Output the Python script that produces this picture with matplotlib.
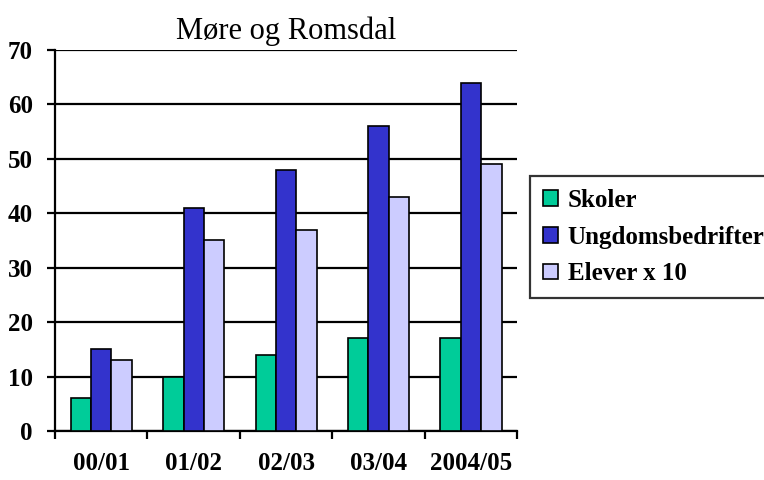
import matplotlib.pyplot as plt
import numpy as np

# Data
categories = ['00/01', '01/02', '02/03', '03/04', '2004/05']
skoler = [6, 10, 14, 17, 17]
ungdomsbedrifter = [15, 41, 48, 56, 64]
elever_x10 = [13, 35, 37, 43, 49]

series = [
    ('Skoler', skoler, '#00CC99'),
    ('Ungdomsbedrifter', ungdomsbedrifter, '#3333CC'),
    ('Elever x 10', elever_x10, '#CCCCFF'),
]

plt.rcParams['font.family'] = ['Liberation Serif', 'DejaVu Serif']

fig = plt.figure(figsize=(7.64, 4.8), dpi=100)
ax = fig.add_axes([0.072, 0.102, 0.605, 0.794])

x = np.arange(len(categories))
width = 0.22
for i, (name, vals, color) in enumerate(series):
    ax.bar(x + (i - 1) * width, vals, width, color=color, edgecolor='black',
           linewidth=1.2, label=name, zorder=3)

ax.set_xlim(-0.5, len(categories) - 0.5)
ax.set_ylim(0, 70)
ax.set_yticks(range(0, 71, 10))
ax.yaxis.grid(True, color='black', linewidth=1.6, zorder=0)
ax.set_axisbelow(True)

# category ticks at group boundaries, labels centred
ax.set_xticks(np.arange(-0.5, len(categories), 1))
ax.set_xticklabels([])
ax.set_xticks(x, minor=True)
ax.set_xticklabels(categories, minor=True)
ax.tick_params(axis='x', which='minor', length=0, pad=15)
ax.tick_params(axis='x', which='major', length=6, width=1.6, direction='out')
ax.tick_params(axis='y', length=6, width=1.6, direction='out', pad=10)

for lbl in ax.get_xticklabels(minor=True) + ax.get_yticklabels():
    lbl.set_fontsize(18)
    lbl.set_fontweight('bold')

for side in ['top', 'right']:
    ax.spines[side].set_visible(False)
ax.spines['left'].set_linewidth(1.6)
ax.spines['bottom'].set_linewidth(1.6)

ax.set_title('Møre og Romsdal', fontsize=22, pad=8)

leg = ax.legend(loc='center left', bbox_to_anchor=(1.028, 0.509), frameon=True,
                fancybox=False, edgecolor='black',
                prop={'weight': 'bold', 'size': 18}, handlelength=0.6,
                handleheight=0.6, handletextpad=0.4, labelspacing=0.55,
                borderpad=0.5, borderaxespad=0)
leg.get_frame().set_linewidth(1.6)

fig.savefig('out.png', dpi=100)
